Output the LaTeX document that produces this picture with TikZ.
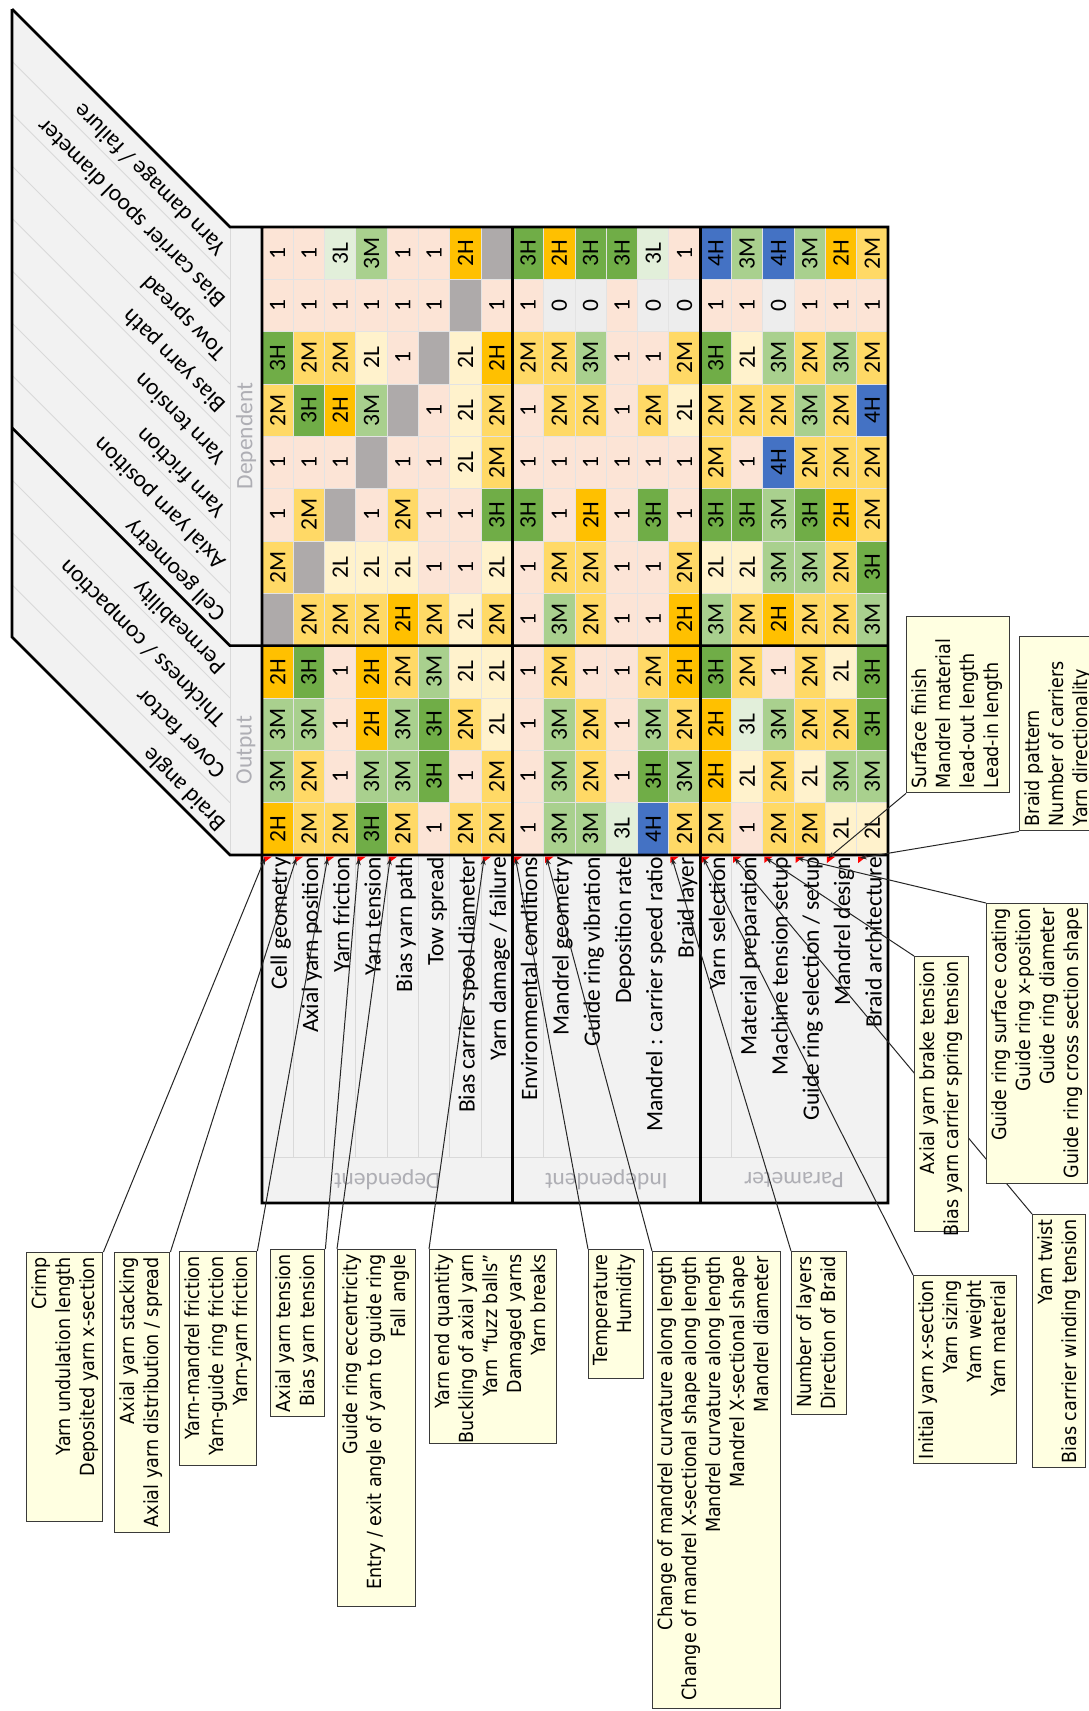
\documentclass[tikz,border=0pt]{standalone}
\usepackage{fontspec}
\setmainfont{Carlito}
\newfontfamily\notefamily[FakeStretch=0.9]{DejaVu Sans}
\usetikzlibrary{arrows.meta}
\pgfdeclarelayer{notes}
\pgfsetlayers{main,notes}

\definecolor{panel}{HTML}{F2F2F2}
\definecolor{rule}{HTML}{D9D9D9}
\definecolor{cellrule}{HTML}{E3E3E3}
\definecolor{sectiontext}{HTML}{AEAEB4}
\definecolor{notefill}{HTML}{FFFFE1}
\definecolor{noteedge}{HTML}{3A3A3A}
\definecolor{c0}{HTML}{EDEDED}
\definecolor{c1}{HTML}{FCE4D6}
\definecolor{c2L}{HTML}{FFF2CC}
\definecolor{c2M}{HTML}{FFD966}
\definecolor{c2H}{HTML}{FFC000}
\definecolor{c3L}{HTML}{E2EFDA}
\definecolor{c3M}{HTML}{A9D08E}
\definecolor{c3H}{HTML}{70AD47}
\definecolor{c4H}{HTML}{4472C4}
\definecolor{cG}{HTML}{AEAAAA}

\newcommand\gridfont{\fontsize{23.5}{28}\selectfont}
\newcommand\calloutfont{\notefamily\fontsize{19.5}{24}\selectfont}
\newcommand\cellval[1]{\if G#1\else#1\fi}

\begin{document}
\begin{tikzpicture}[x=1pt,y=-1pt,
  cell/.style={rectangle, rotate=90, minimum width=52.333pt, minimum height=31.3pt,
               inner sep=0pt, draw=cellrule, line width=1pt, font=\gridfont},
  rowlabel/.style={rotate=90, inner sep=0pt, font=\gridfont, anchor=base east},
  collabel/.style={rotate=135, inner sep=0pt, font=\gridfont, anchor=mid west},
  section/.style={font=\gridfont, text=sectiontext, inner sep=0pt},
  frame/.style={line width=2.6pt, draw=black},
  thinrule/.style={draw=rule, line width=0.9pt},
  notebox/.style={draw=noteedge, fill=notefill, line width=1.4pt, anchor=north west, inner sep=0pt},
  notetext/.style={rotate=90, inner sep=0pt, font=\calloutfont},
  noteline/.style={draw=black!85, line width=1pt, -{Stealth[length=7pt,width=5pt]}},
]
\useasboundingbox (0,0) rectangle (1088,1711);
\clip (0,0) rectangle (1088,1711);
\fill[white] (0,0) rectangle (1088,1711);

% slanted header panel and the label strip beside the grid
\fill[panel] (12,9) -- (230,227) -- (262,227) -- (262,855) -- (230,855) -- (12,637) -- cycle;
\foreach \r in {1,...,7,9,10,11}
  \draw[thinrule] (12,{227+52.333*\r-218}) -- (230,{227+52.333*\r});
\draw[thinrule] (230,227) -- (230,855);

% row label panel under the grid
\fill[panel] (262,855) rectangle (888,1203);
\foreach \k in {1,...,7,9,...,13,15,...,19}
  \draw[thinrule] ({262+31.3*\k},855) -- ({262+31.3*\k},1157);
\draw[thinrule] (262,1157) -- (888,1157);

% matrix cells
\foreach \rowvals [count=\r from 0] in {
  {1,1,3L,3M,1,1,2H,G,3H,2H,3H,3H,3L,1,4H,3M,4H,3M,2H,2M},
  {1,1,1,1,1,1,G,1,1,0,0,1,0,0,1,1,0,1,1,1},
  {3H,2M,2M,2L,1,G,2L,2H,2M,2M,3M,1,1,2M,3H,2L,3M,2M,3M,2M},
  {2M,3H,2H,3M,G,1,2L,2M,1,2M,2M,1,2M,2L,2M,2M,2M,3M,2M,4H},
  {1,1,1,G,1,1,2L,2M,1,1,1,1,1,1,2M,1,4H,2M,2M,2M},
  {1,2M,G,1,2M,1,1,3H,3H,1,2H,1,3H,1,3H,3H,3M,3H,2H,2M},
  {2M,G,2L,2L,2L,1,1,2L,1,2M,2M,1,1,2M,2L,2L,3M,3M,2M,3H},
  {G,2M,2M,2M,2H,2M,2L,2M,1,3M,2M,1,1,2H,3M,2M,2H,2M,2M,3M},
  {2H,3H,1,2H,2M,3M,2L,2L,1,2M,1,1,2M,2H,3H,2M,1,2M,2L,3H},
  {3M,3M,1,2H,3M,3H,2M,2L,1,3M,2M,1,3M,2M,2H,3L,3M,2M,2M,3H},
  {3M,2M,1,3M,3M,3H,1,2M,1,3M,2M,1,3H,3M,2H,2L,2M,2L,3M,3M},
  {2H,2M,2M,3H,2M,1,2M,2M,1,3M,3M,3L,4H,2M,2M,1,2M,2M,2L,2L}}{
  \foreach \v [count=\c from 0] in \rowvals {
    \node[cell, fill=c\v] (cell-\r-\c) at ({262+31.3*(\c+0.5)},{227+52.333*(\r+0.5)}) {\cellval{\v}};
  }
}

% heavy frame lines
\draw[frame] (12,9) -- (230,227) -- (888,227) -- (888,1203) -- (262,1203) -- (262,227);
\draw[frame] (12,9) -- (12,637) -- (230,855) -- (888,855);
\draw[frame] (12,427.667) -- (230,645.667) -- (888,645.667);
\draw[frame] (512.4,227) -- (512.4,1203);
\draw[frame] (700.2,227) -- (700.2,1203);

% slanted column headings
\foreach \lab [count=\r from 0] in {Yarn damage / failure,Bias carrier spool diameter,Tow spread,
    Bias yarn path,Yarn tension,Yarn friction,Axial yarn position,Cell geometry,Permeability,
    Thickness / compaction,Cover factor,Braid angle}
  \node[collabel] (head-\r) at (225,{227+52.333*\r+21.17}) {\lab};

% row headings
\foreach \lab [count=\c from 0] in {Cell geometry,Axial yarn position,Yarn friction,Yarn tension,
    Bias yarn path,Tow spread,Bias carrier spool diameter,Yarn damage / failure,
    Environmental conditions,Mandrel geometry,Guide ring vibration,Deposition rate,
    Mandrel : carrier speed ratio,Braid layer,Yarn selection,Material preparation,
    Machine tension setup,Guide ring selection / setup,Mandrel design,Braid architecture}
  \node[rowlabel] (row-\c) at ({262+31.3*(\c+1)-6.5},857) {\lab};

% group captions
\node[section, rotate=90] (grp-dep) at (246,436) {Dependent};
\node[section, rotate=90] (grp-out) at (246,750) {Output};
\node[section, rotate=180] (grp-dep2) at (387.2,1180) {Dependent};
\node[section, rotate=180] (grp-ind) at (606.3,1180) {Independent};
\node[section, rotate=180] (grp-par) at (794.1,1180) {Parameter};

% comment markers
\foreach \k in {0,1,2,3,4,7,8,9,13,14,15,16,17,18,19} {
  \fill[red] ({262+31.3*\k+1.5},856.5) -- ++(8.5,0) -- ++(-8.5,6.5) -- cycle;
  \coordinate (m\k) at ({262+31.3*\k+3},858);
}

% comment boxes
\begin{pgfonlayer}{notes}
  \node[notebox, minimum width=76pt, minimum height=269pt] (nCrimp) at (26,1252) {};
  \node[notetext, align=right, anchor=north east] at ([shift={(5,5)}]nCrimp.north west)
    {Crimp\\Yarn undulation length\\Deposited yarn x-section};
  \node[notebox, minimum width=55pt, minimum height=280pt] (nStack) at (114,1252) {};
  \node[notetext, align=right, anchor=north east] at ([shift={(5,5)}]nStack.north west)
    {Axial yarn stacking\\Axial yarn distribution / spread};
  \node[notebox, minimum width=77pt, minimum height=214pt] (nFric) at (179,1251) {};
  \node[notetext, align=right, anchor=north east] at ([shift={(5,5)}]nFric.north west)
    {Yarn-mandrel friction\\Yarn-guide ring friction\\Yarn-yarn friction};
  \node[notebox, minimum width=54pt, minimum height=167pt] (nTens) at (270,1249) {};
  \node[notetext, align=right, anchor=north east] at ([shift={(5,5)}]nTens.north west)
    {Axial yarn tension\\Bias yarn tension};
  \node[notebox, minimum width=78pt, minimum height=357pt] (nRing) at (337,1249) {};
  \node[notetext, align=right, anchor=north east] at ([shift={(5,5)}]nRing.north west)
    {Guide ring eccentricity\\Entry / exit angle of yarn to guide ring\\Fall angle};
  \node[notebox, minimum width=127pt, minimum height=194pt] (nEnd) at (429,1249) {};
  \node[notetext, align=right, anchor=north east] at ([shift={(5,5)}]nEnd.north west)
    {Yarn end quantity\\Buckling of axial yarn\\Yarn “fuzz balls”\hspace*{6pt}\\Damaged yarns\\Yarn breaks};
  \node[notebox, minimum width=55pt, minimum height=129pt] (nEnv) at (588,1249) {};
  \node[notetext, align=right, anchor=north east] at ([shift={(5,5)}]nEnv.north west)
    {Temperature\\Humidity};
  \node[notebox, minimum width=128pt, minimum height=457pt] (nMand) at (652,1251) {};
  \node[notetext, align=right, anchor=north east] at ([shift={(5,5)}]nMand.north west)
    {Change of mandrel curvature along length\\Change of mandrel X-sectional shape along length\\Mandrel curvature along length\\Mandrel X-sectional shape\\Mandrel diameter};
  \node[notebox, minimum width=55pt, minimum height=163pt] (nLayer) at (791,1251) {};
  \node[notetext, align=right, anchor=north east] at ([shift={(5,5)}]nLayer.north west)
    {Number of layers\\Direction of Braid};
  \node[notebox, minimum width=103pt, minimum height=188pt] (nYarn) at (913,1275) {};
  \node[notetext, align=right, anchor=north east] at ([shift={(5,5)}]nYarn.north west)
    {Initial yarn x-section\\Yarn sizing\\Yarn weight\\Yarn material};
  \node[notebox, minimum width=53pt, minimum height=253pt] (nTwist) at (1032,1214) {};
  \node[notetext, align=right, anchor=north east] at ([shift={(5,5)}]nTwist.north west)
    {Yarn twist\\Bias carrier winding tension};
  \node[notebox, minimum width=54pt, minimum height=275pt] (nBrake) at (914,956) {};
  \node[notetext, align=right, anchor=north east] at ([shift={(5,5)}]nBrake.north west)
    {Axial yarn brake tension\\Bias yarn carrier spring tension};
  \node[notebox, minimum width=101pt, minimum height=280pt] (nGuide) at (986,903) {};
  \node[notetext, align=right, anchor=north east] at ([shift={(5,5)}]nGuide.north west)
    {Guide ring surface coating\\Guide ring x-position\\Guide ring diameter\\Guide ring cross section shape};
  \node[notebox, minimum width=103pt, minimum height=176pt] (nSurf) at (906,616) {};
  \node[notetext, align=left, anchor=north west] at ([shift={(5,-5)}]nSurf.south west)
    {Surface finish\\Mandrel material\\lead-out length\\Lead-in length};
  \node[notebox, minimum width=78pt, minimum height=194pt] (nPat) at (1019,636) {};
  \node[notetext, align=left, anchor=north west] at ([shift={(5,-5)}]nPat.south west)
    {Braid pattern\\Number of carriers\\Yarn directionality};
\end{pgfonlayer}

% comment pointers
\draw[noteline] (nCrimp.north east) -- (m0);
\draw[noteline] (nStack.north east) -- (m1);
\draw[noteline] (nFric.north east) -- (m2);
\draw[noteline] (nTens.north east) -- (m3);
\draw[noteline] (nRing.north west) -- (m4);
\draw[noteline] (nEnd.north west) -- (m7);
\draw[noteline] (nEnv.north west) -- (m8);
\draw[noteline] (nMand.north west) -- (m9);
\draw[noteline] (nLayer.north west) -- (m13);
\draw[noteline] (nYarn.north west) -- (m14);
\draw[noteline] (nTwist.north west) -- (m15);
\draw[noteline] (nBrake.north west) -- (m16);
\draw[noteline] (nGuide.north west) -- (m17);
\draw[noteline] (nSurf.south west) -- (m18);
\draw[noteline] (nPat.south west) -- (m19);
\end{tikzpicture}
\end{document}
